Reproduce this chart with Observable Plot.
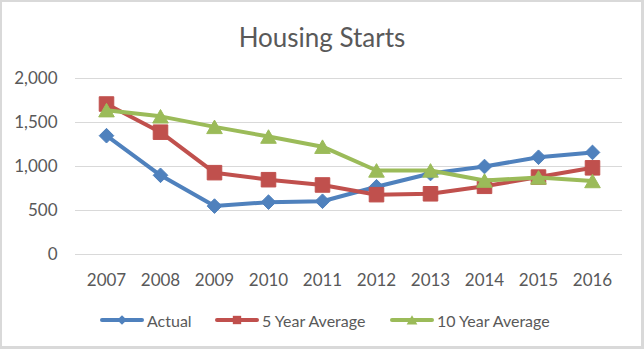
<!DOCTYPE html>
<html>
<head>
<meta charset="utf-8">
<script src="https://cdn.jsdelivr.net/npm/d3@7"></script>
<script src="https://cdn.jsdelivr.net/npm/@observablehq/plot@0.6"></script>
<style>
  html, body { margin: 0; padding: 0; background: #fff; }
  #wrap { position: relative; width: 644px; height: 349px; background: #fff; overflow: hidden; font-family: Lato, "Open Sans", sans-serif; color: #595959; }
  #frame { position: absolute; left: 0; top: 0; width: 644px; height: 349px; box-sizing: border-box; border-style: solid; border-color: #d9d9d9; border-width: 2px 3px 3px 2px; pointer-events: none; }
  #title { position: absolute; left: 0; width: 644px; top: 20px; text-align: center; font-size: 26px; line-height: 34px; color: #595959; }
  #chart { position: absolute; left: 0; top: 60px; }
  #legend { position: absolute; left: 0; top: 308px; width: 644px; height: 24px; }
  .item { position: absolute; top: 0; height: 24px; display: flex; align-items: center; font-size: 16px; color: #595959; white-space: nowrap; }
  .item svg { display: block; margin-right: 3px; }
</style>
</head>
<body>
<div id="wrap">
  <div id="title"></div>
  <div id="chart"></div>
  <div id="legend"></div>
  <div id="frame"></div>
</div>
<script>
// ---- data ----
const chartTitle = "Housing Starts";
const years = [2007, 2008, 2009, 2010, 2011, 2012, 2013, 2014, 2015, 2016];
const actual = [1350, 900, 550, 595, 605, 770, 920, 1000, 1105, 1160];
const fiveYearAverage = [1710, 1390, 930, 850, 790, 680, 690, 775, 880, 985];
const tenYearAverage = [1640, 1570, 1450, 1340, 1225, 955, 955, 840, 875, 835];
const seriesNames = ["Actual", "5 Year Average", "10 Year Average"];
const yTicks = [0, 500, 1000, 1500, 2000];

// ---- styling ----
const colors = ["#4f81bd", "#c0504d", "#9bbb59"];
const symbols = ["diamond2", "square", "triangle"];
const radii = [6.6, 8.2, 5.8];
const dys = [0, 0, 2.2];

const seriesValues = [actual, fiveYearAverage, tenYearAverage];
const rows = seriesNames.map((name, i) => years.map((year, j) => ({ series: name, year, value: seriesValues[i][j] })));

document.getElementById("title").textContent = chartTitle;

const marks = [
  Plot.gridY(yTicks, { stroke: "#d9d9d9", strokeOpacity: 1, strokeWidth: 1 }),
  Plot.axisY({ ticks: yTicks, tickSize: 0, tickPadding: 18, tickFormat: d3.format(","), fontSize: 17, label: null }),
  Plot.axisX({ tickSize: 0, tickPadding: 19, tickFormat: d => String(d), fontSize: 17, label: null })
];
rows.forEach((data, i) => {
  marks.push(Plot.line(data, { x: "year", y: "value", stroke: colors[i], strokeWidth: 4, strokeLinejoin: "round", strokeLinecap: "round" }));
  marks.push(Plot.dot(data, { x: "year", y: "value", symbol: symbols[i], r: radii[i], dy: dys[i], fill: colors[i], stroke: colors[i], strokeWidth: 1 }));
});

const chart = Plot.plot({
  width: 644,
  height: 240,
  marginTop: 18,
  marginBottom: 46,
  marginLeft: 75,
  marginRight: 22,
  x: { type: "point", domain: years, padding: 0.5 },
  y: { domain: [0, 2000] },
  style: { fontFamily: "Lato, 'Open Sans', sans-serif", color: "#595959", background: "transparent", overflow: "visible" },
  marks
});
document.getElementById("chart").appendChild(chart);

// ---- legend ----
const legend = document.getElementById("legend");
const legendLefts = [100, 215, 390];
const legendSyms = { diamond2: d3.symbolDiamond2, square: d3.symbolSquare, triangle: d3.symbolTriangle };
const legendSizes = [60, 70, 50];
seriesNames.forEach((name, i) => {
  const item = document.createElement("div");
  item.className = "item";
  item.style.left = legendLefts[i] + "px";
  const svg = d3.create("svg").attr("width", 44).attr("height", 24);
  svg.append("line").attr("x1", 2).attr("x2", 42).attr("y1", 12).attr("y2", 12)
    .attr("stroke", colors[i]).attr("stroke-width", 4).attr("stroke-linecap", "round");
  svg.append("path").attr("d", d3.symbol(legendSyms[symbols[i]], legendSizes[i])())
    .attr("transform", `translate(22,${12 + (i === 2 ? 1.5 : 0)})`).attr("fill", colors[i]);
  item.appendChild(svg.node());
  const span = document.createElement("span");
  span.textContent = name;
  item.appendChild(span);
  legend.appendChild(item);
});
</script>
</body>
</html>
